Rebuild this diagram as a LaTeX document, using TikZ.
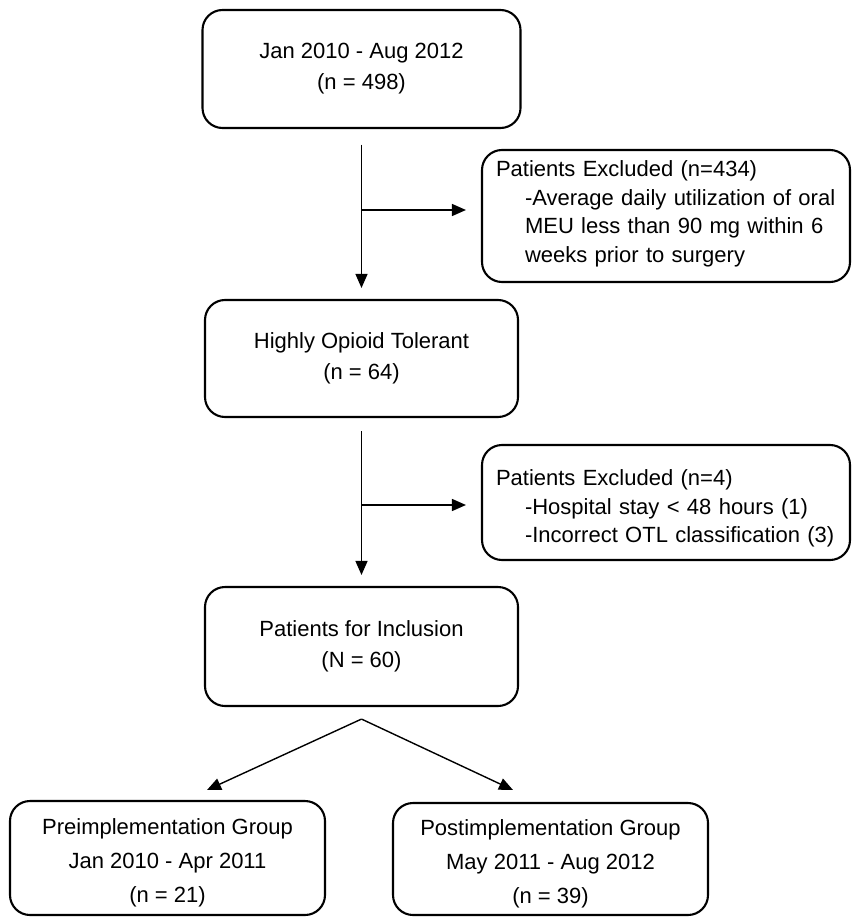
\documentclass[tikz,border=0pt]{standalone}
\usepackage{fontspec}
\setmainfont{Liberation Sans}
\usetikzlibrary{arrows.meta}
\begin{document}
\begin{tikzpicture}[x=1pt,y=-1pt,
  box/.style={draw, line width=2.1pt, rounded corners=20pt, inner sep=0pt},
  mainbox/.style={box, align=center, font=\fontsize{22}{31}\selectfont},
  exbox/.style={box, minimum width=368pt},
  extext/.style={align=left, font=\fontsize{22}{28.5}\selectfont,
    text width=340pt, inner sep=0pt},
  grpbox/.style={box, minimum width=315pt},
  grptext/.style={align=center, font=\fontsize{22}{34}\selectfont, inner sep=0pt},
  arr/.style={line width=1.4pt, -{Triangle[length=14pt,width=12pt]}}]
\useasboundingbox (0,0) rectangle (851,917);

% main boxes
\node[mainbox, minimum width=318pt, minimum height=118pt] (top) at (361.5,69)
  {Jan 2010 - Aug 2012\\(n = 498)};
\node[mainbox, minimum width=313pt, minimum height=117pt] (hot) at (361.5,358.5)
  {Highly Opioid Tolerant\\(n = 64)};
\node[mainbox, minimum width=313pt, minimum height=119pt] (incl) at (361.5,646.5)
  {Patients for Inclusion\\(N = 60)};

% exclusion boxes
\node[exbox, minimum height=132pt] (ex1) at (666,216) {};
\node[extext] (ex1t) at ([yshift=2pt]ex1.center)
  {Patients Excluded (n=434)\\
   \hspace*{29pt}\makebox[310pt][s]{-Average daily utilization of oral}\\
   \hspace*{29pt}\makebox[310pt][s]{MEU less than 90 mg within 6}\\
   \hspace*{29pt}weeks prior to surgery};
\node[exbox, minimum height=115pt] (ex2) at (666,502.5) {};
\node[extext] (ex2t) at ([yshift=-6pt]ex2.center)
  {Patients Excluded (n=4)\\
   \hspace*{29pt}-Hospital stay < 48 hours (1)\\
   \hspace*{29pt}-Incorrect OTL classification (3)};

% group boxes
\node[grpbox, minimum height=114pt] (pre) at (167.5,858) {};
\node[grptext] (pret) at ([yshift=-5pt]pre.center)
  {Preimplementation Group\\Jan 2010 - Apr 2011\\(n = 21)};
\node[grpbox, minimum height=112pt] (post) at (550.5,859) {};
\node[grptext] (postt) at ([yshift=-5pt]post.center)
  {Postimplementation Group\\May 2011 - Aug 2012\\(n = 39)};

% vertical flow with side branches
\draw[arr] ([yshift=-15.5pt]top.south) -- ([yshift=11pt]hot.north);
\coordinate (j1) at (361.5,210);
\draw[arr] (j1) -- ([xshift=-15pt]j1 -| ex1.west);

\draw[arr] ([yshift=-13pt]hot.south) -- ([yshift=11pt]incl.north);
\coordinate (j2) at (361.5,505);
\draw[arr] (j2) -- ([xshift=-15pt]j2 -| ex2.west);

% split
\coordinate (apex) at ([yshift=-12pt]incl.south);
\coordinate (tipL) at (207,790);
\coordinate (tipR) at (513,790);
\draw[arr] (apex) -- (tipL);
\draw[arr] (apex) -- (tipR);
\end{tikzpicture}
\end{document}
